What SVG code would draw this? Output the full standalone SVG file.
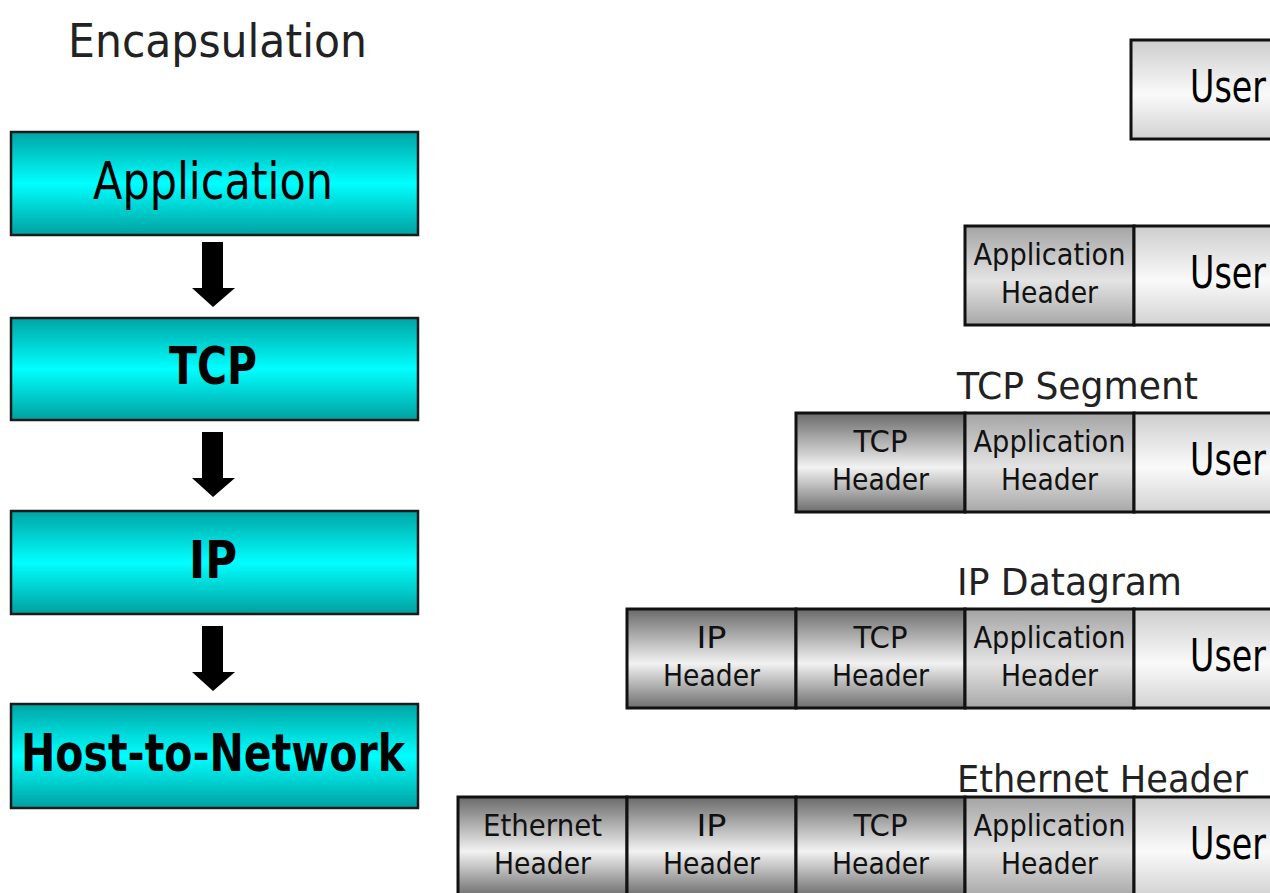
<svg xmlns="http://www.w3.org/2000/svg" width="1270" height="893" viewBox="0 0 1270 893">
<defs>
<linearGradient id="gCyan" x1="0" y1="0" x2="0" y2="1">
<stop offset="0" stop-color="#00a4a4"/><stop offset="0.5" stop-color="#00ffff"/><stop offset="1" stop-color="#00a0a0"/>
</linearGradient>
<linearGradient id="gDark" x1="0" y1="0" x2="0" y2="1">
<stop offset="0" stop-color="#6a6a6a"/><stop offset="0.55" stop-color="#f2f2f2"/><stop offset="1" stop-color="#6e6e6e"/>
</linearGradient>
<linearGradient id="gApp" x1="0" y1="0" x2="0" y2="1">
<stop offset="0" stop-color="#a4a4a4"/><stop offset="0.55" stop-color="#e4e4e4"/><stop offset="1" stop-color="#a8a8a8"/>
</linearGradient>
<linearGradient id="gUser" x1="0" y1="0" x2="0" y2="1">
<stop offset="0" stop-color="#cdcdcd"/><stop offset="0.55" stop-color="#fafafa"/><stop offset="1" stop-color="#d2d2d2"/>
</linearGradient>
<style>
.layer{fill:url(#gCyan);stroke:#1a1a1a;stroke-width:2.5}
.dark{fill:url(#gDark);stroke:#111;stroke-width:3}
.app{fill:url(#gApp);stroke:#111;stroke-width:3}
.user{fill:url(#gUser);stroke:#111;stroke-width:3}
.t{font-family:"DejaVu Sans","Liberation Sans",sans-serif;fill:#000}
.ttl{font-size:47px;fill:#222}
.big{font-size:52px}
.bold{font-size:51px;font-weight:bold}
.h{font-size:31px;text-anchor:middle;fill:#111}
.usr{font-size:44px}
.lbl{font-size:37px;fill:#222}
.arrow{fill:#000}
</style>
</defs>
<rect width="1270" height="893" fill="#fff"/>
<text class="t ttl" x="68" y="57" textLength="299" lengthAdjust="spacingAndGlyphs">Encapsulation</text>

<g id="layer-application">
<rect class="layer" x="11" y="132" width="407" height="103"/>
<text class="t big" x="93" y="199" textLength="240" lengthAdjust="spacingAndGlyphs">Application</text>
</g>
<g id="layer-tcp">
<rect class="layer" x="11" y="318" width="407" height="102"/>
<text class="t bold" x="213" y="384" text-anchor="middle" textLength="88" lengthAdjust="spacingAndGlyphs">TCP</text>
</g>
<g id="layer-ip">
<rect class="layer" x="11" y="511" width="407" height="103"/>
<text class="t bold" x="213" y="578" text-anchor="middle" textLength="48" lengthAdjust="spacingAndGlyphs">IP</text>
</g>
<g id="layer-host">
<rect class="layer" x="11" y="704" width="407" height="104"/>
<text class="t bold" x="213" y="771" text-anchor="middle" textLength="384" lengthAdjust="spacingAndGlyphs">Host-to-Network</text>
</g>

<g id="connectors">
<path class="arrow" d="M202,242 H223 V288 H235 L213,307 L192,288 H202 Z"/>
<path class="arrow" d="M202,432 H223 V478 H235 L213,497 L192,478 H202 Z"/>
<path class="arrow" d="M202,626 H223 V672 H235 L213,691 L192,672 H202 Z"/>
</g>

<g id="row-user">
<rect class="user" x="1131" y="40" width="160" height="99"/>
<text class="t usr" x="1190" y="102" textLength="76" lengthAdjust="spacingAndGlyphs">User</text>
</g>

<g id="row-app">
<rect class="app" x="965" y="226" width="169" height="99"/>
<text class="t h" x="1049.5" y="265" textLength="152" lengthAdjust="spacingAndGlyphs">Application</text>
<text class="t h" x="1049.5" y="303" textLength="97" lengthAdjust="spacingAndGlyphs">Header</text>
<rect class="user" x="1134" y="226" width="160" height="99"/>
<text class="t usr" x="1190" y="288" textLength="76" lengthAdjust="spacingAndGlyphs">User</text>
</g>

<g id="row-tcp-segment">
<text class="t lbl" x="957" y="399" textLength="241" lengthAdjust="spacingAndGlyphs">TCP Segment</text>
<rect class="dark" x="796" y="413" width="169" height="99"/>
<text class="t h" x="880.5" y="452" textLength="54" lengthAdjust="spacingAndGlyphs">TCP</text>
<text class="t h" x="880.5" y="490" textLength="97" lengthAdjust="spacingAndGlyphs">Header</text>
<rect class="app" x="965" y="413" width="169" height="99"/>
<text class="t h" x="1049.5" y="452" textLength="152" lengthAdjust="spacingAndGlyphs">Application</text>
<text class="t h" x="1049.5" y="490" textLength="97" lengthAdjust="spacingAndGlyphs">Header</text>
<rect class="user" x="1134" y="413" width="160" height="99"/>
<text class="t usr" x="1190" y="475" textLength="76" lengthAdjust="spacingAndGlyphs">User</text>
</g>

<g id="row-ip-datagram">
<text class="t lbl" x="957" y="595" textLength="225" lengthAdjust="spacingAndGlyphs">IP Datagram</text>
<rect class="dark" x="627" y="609" width="169" height="99"/>
<text class="t h" x="711.5" y="648" textLength="30" lengthAdjust="spacingAndGlyphs">IP</text>
<text class="t h" x="711.5" y="686" textLength="97" lengthAdjust="spacingAndGlyphs">Header</text>
<rect class="dark" x="796" y="609" width="169" height="99"/>
<text class="t h" x="880.5" y="648" textLength="54" lengthAdjust="spacingAndGlyphs">TCP</text>
<text class="t h" x="880.5" y="686" textLength="97" lengthAdjust="spacingAndGlyphs">Header</text>
<rect class="app" x="965" y="609" width="169" height="99"/>
<text class="t h" x="1049.5" y="648" textLength="152" lengthAdjust="spacingAndGlyphs">Application</text>
<text class="t h" x="1049.5" y="686" textLength="97" lengthAdjust="spacingAndGlyphs">Header</text>
<rect class="user" x="1134" y="609" width="160" height="99"/>
<text class="t usr" x="1190" y="671" textLength="76" lengthAdjust="spacingAndGlyphs">User</text>
</g>

<g id="row-ethernet">
<text class="t lbl" x="957" y="792" textLength="291" lengthAdjust="spacingAndGlyphs">Ethernet Header</text>
<rect class="dark" x="458" y="797" width="169" height="99"/>
<text class="t h" x="542.5" y="836" textLength="119" lengthAdjust="spacingAndGlyphs">Ethernet</text>
<text class="t h" x="542.5" y="874" textLength="97" lengthAdjust="spacingAndGlyphs">Header</text>
<rect class="dark" x="627" y="797" width="169" height="99"/>
<text class="t h" x="711.5" y="836" textLength="30" lengthAdjust="spacingAndGlyphs">IP</text>
<text class="t h" x="711.5" y="874" textLength="97" lengthAdjust="spacingAndGlyphs">Header</text>
<rect class="dark" x="796" y="797" width="169" height="99"/>
<text class="t h" x="880.5" y="836" textLength="54" lengthAdjust="spacingAndGlyphs">TCP</text>
<text class="t h" x="880.5" y="874" textLength="97" lengthAdjust="spacingAndGlyphs">Header</text>
<rect class="app" x="965" y="797" width="169" height="99"/>
<text class="t h" x="1049.5" y="836" textLength="152" lengthAdjust="spacingAndGlyphs">Application</text>
<text class="t h" x="1049.5" y="874" textLength="97" lengthAdjust="spacingAndGlyphs">Header</text>
<rect class="user" x="1134" y="797" width="160" height="99"/>
<text class="t usr" x="1190" y="859" textLength="76" lengthAdjust="spacingAndGlyphs">User</text>
</g>
</svg>
